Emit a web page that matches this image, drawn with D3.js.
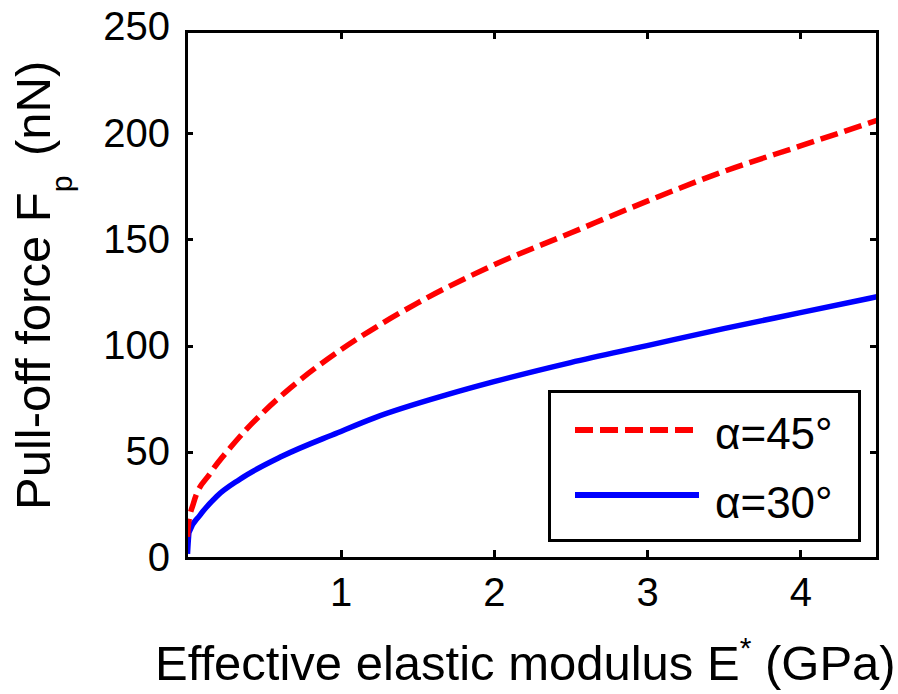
<!DOCTYPE html>
<html>
<head>
<meta charset="utf-8">
<script src="https://cdn.jsdelivr.net/npm/d3@7"></script>
<style>
  body { margin: 0; background: #fff; }
  svg { display: block; }
  text { font-family: "Liberation Sans", Arial, sans-serif; fill: #000; }
</style>
</head>
<body>
<div id="chart"></div>
<script>
// values
const e45 = [0, 0.005, 0.04, 0.15, 0.28, 0.39, 0.5, 0.67, 1, 1.26, 1.5, 2, 2.5, 3, 3.5, 4, 4.5];
const f45 = [10, 15, 26, 40, 52, 61, 69, 80, 98, 110, 120, 138, 153, 168, 182, 194, 206];
const e30 = [0, 0.005, 0.01, 0.08, 0.19, 0.34, 0.62, 0.98, 1.22, 1.7, 2, 2.5, 3, 3.5, 4, 4.5];
const f30 = [2, 8, 12, 20, 29, 37, 48, 59, 66, 77, 83, 92, 100, 108, 115.5, 123];
const xTicks = [1, 2, 3, 4];
const yTicks = [0, 50, 100, 150, 200, 250];
const legendLabels = ["α=45°", "α=30°"];

const W = 898, H = 694;
// plot frame
const box = {left: 186, right: 877, top: 31, bottom: 558};

const svg = d3.select("#chart")
    .append("svg")
    .attr("width", W)
    .attr("height", H);

const x = d3.scaleLinear().domain([0, 4.5]).range([187.5, box.right]);
const y = d3.scaleLinear().domain([0, 250]).range([box.bottom, 27]);

svg.append("defs").append("clipPath").attr("id", "clip")
    .append("rect")
    .attr("x", box.left).attr("y", box.top)
    .attr("width", box.right - box.left).attr("height", box.bottom - box.top);

// curves
const line = d3.line()
    .x((d) => x(d[0]))
    .y((d) => y(d[1]))
    .curve(d3.curveMonotoneX);

const g = svg.append("g").attr("clip-path", "url(#clip)");
g.append("path")
    .datum(d3.zip(e30, f30))
    .attr("d", line)
    .attr("fill", "none")
    .attr("stroke", "#0000ff")
    .attr("stroke-width", 5.5);
g.append("path")
    .datum(d3.zip(e45, f45))
    .attr("d", line)
    .attr("fill", "none")
    .attr("stroke", "#ff0000")
    .attr("stroke-width", 5.5)
    .attr("stroke-dasharray", "18,7");

// axes, ticks pointing inwards
const ax = svg.append("g").attr("shape-rendering", "crispEdges");
ax.append("g")
    .attr("transform", `translate(0,${box.bottom})`)
    .call(d3.axisBottom(x).tickValues(xTicks).tickFormat(d3.format("d")).tickSize(-8).tickPadding(20));
ax.append("g")
    .attr("transform", `translate(0,${box.top})`)
    .call(d3.axisTop(x).tickValues(xTicks).tickSize(-8).tickFormat(""));
ax.append("g")
    .attr("transform", `translate(${box.left},0)`)
    .call(d3.axisLeft(y).tickValues(yTicks).tickSize(-7).tickPadding(16));
ax.append("g")
    .attr("transform", `translate(${box.right},0)`)
    .call(d3.axisRight(y).tickValues(yTicks.filter((v) => v < 250)).tickSize(-7).tickFormat(""));

ax.selectAll(".domain").remove();
ax.selectAll(".tick line").attr("stroke", "#000").attr("stroke-width", 3);
ax.selectAll(".tick").filter((d) => d === 250).select("line").remove();
ax.selectAll(".tick text")
    .style("font-family", '"Liberation Sans", Arial, sans-serif')
    .style("font-size", "40px")
    .attr("fill", "#000");

ax.append("rect")
    .attr("x", box.left).attr("y", box.top)
    .attr("width", box.right - box.left).attr("height", box.bottom - box.top)
    .attr("fill", "none")
    .attr("stroke", "#000")
    .attr("stroke-width", 3);

// x label
const xl = svg.append("text")
    .attr("x", 155)
    .attr("y", 680)
    .style("font-size", "49px");
xl.append("tspan").text("Effective elastic modulus E");
xl.append("tspan").attr("dy", -22).style("font-size", "30px").text("*");
xl.append("tspan").attr("dy", 22).text(" (GPa)");

// y label
const yl = svg.append("text")
    .attr("transform", "translate(50,510) rotate(-90)")
    .style("font-size", "49px");
yl.append("tspan").text("Pull-off force F");
yl.append("tspan").attr("dy", 22).style("font-size", "30px").text("p");
yl.append("tspan").attr("dy", -22).attr("dx", 6).text(" (nN)");

// legend
const leg = svg.append("g");
leg.append("rect")
    .attr("x", 549).attr("y", 391)
    .attr("width", 310).attr("height", 149)
    .attr("fill", "#fff")
    .attr("stroke", "#000")
    .attr("stroke-width", 3)
    .attr("shape-rendering", "crispEdges");
leg.append("line")
    .attr("x1", 575).attr("x2", 693).attr("y1", 430).attr("y2", 430)
    .attr("stroke", "#ff0000").attr("stroke-width", 6)
    .attr("stroke-dasharray", "18,7");
leg.append("line")
    .attr("x1", 575).attr("x2", 699).attr("y1", 495).attr("y2", 495)
    .attr("stroke", "#0000ff").attr("stroke-width", 6);
leg.selectAll(".lt")
    .data(legendLabels)
    .join("text")
    .attr("class", "lt")
    .attr("x", 715)
    .attr("y", (d, i) => 449 + i * 69)
    .style("font-size", "44px")
    .text((d) => d);
</script>
</body>
</html>
